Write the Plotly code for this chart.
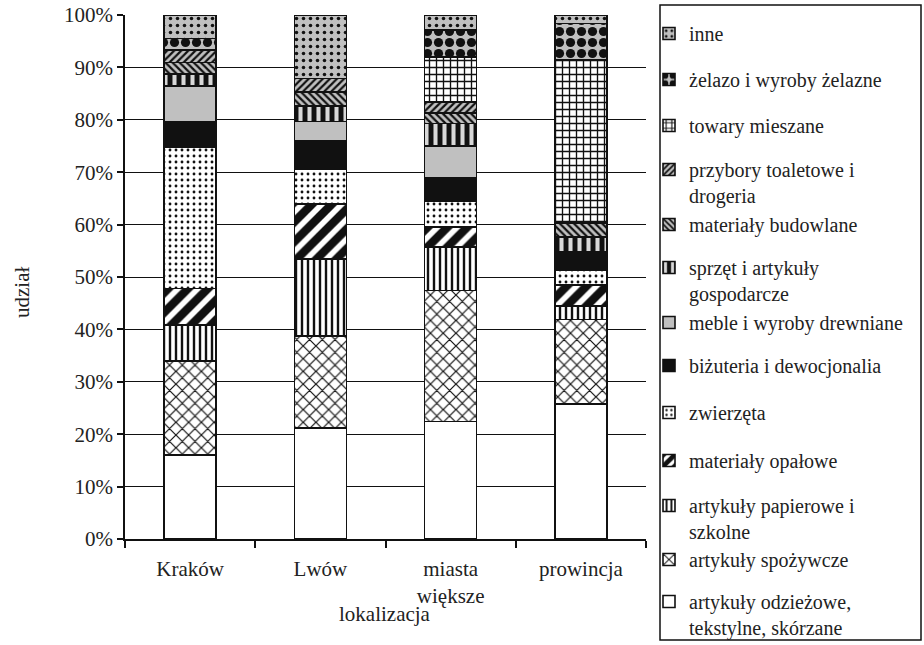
import plotly.graph_objects as go

# ---- data (percent shares) ----
categories = ["Kraków", "Lwów", "miasta<br>większe", "prowincja"]

odziezowe = [16.0, 21.2, 22.4, 25.8]
spozywcze = [18.0, 17.5, 25.0, 16.1]
papierowe = [6.8, 14.7, 8.3, 2.6]
opalowe = [7.0, 10.5, 3.8, 4.0]
zwierzeta = [27.0, 6.6, 5.0, 2.8]
bizuteria = [4.8, 5.5, 4.4, 3.5]
meble = [6.8, 3.7, 6.1, 0.0]
sprzet = [2.3, 2.9, 4.3, 2.8]
budowlane = [2.2, 2.7, 2.0, 2.7]
przybory = [2.4, 2.6, 2.1, 0.0]
towary = [0.0, 0.0, 8.6, 31.1]
zelazo = [2.2, 0.0, 5.1, 7.0]
inne = [4.5, 12.1, 2.9, 1.6]

series_names = [
    "artykuły odzieżowe,<br>tekstylne, skórzane",
    "artykuły spożywcze",
    "artykuły papierowe i<br>szkolne",
    "materiały opałowe",
    "zwierzęta",
    "biżuteria i dewocjonalia",
    "meble i wyroby drewniane",
    "sprzęt i artykuły<br>gospodarcze",
    "materiały budowlane",
    "przybory toaletowe i<br>drogeria",
    "towary mieszane",
    "żelazo i wyroby żelazne",
    "inne",
]
series_values = [odziezowe, spozywcze, papierowe, opalowe, zwierzeta, bizuteria,
                 meble, sprzet, budowlane, przybory, towary, zelazo, inne]

y_tick_values = [0, 10, 20, 30, 40, 50, 60, 70, 80, 90, 100]
y_tick_labels = ["0%", "10%", "20%", "30%", "40%", "50%", "60%", "70%", "80%", "90%", "100%"]

# ---- styles ----
GRAY = "#c0c0c0"
BLACK = "#111111"
WHITE = "#ffffff"
styles = [
    dict(color=WHITE, pattern=dict(shape="")),
    dict(color=WHITE, pattern=dict(shape="x", fgcolor=BLACK, size=9, solidity=0.25, fgopacity=1)),
    dict(color=WHITE, pattern=dict(shape="|", fgcolor=BLACK, size=6, solidity=0.4, fgopacity=1)),
    dict(color=WHITE, pattern=dict(shape="/", fgcolor=BLACK, size=14, solidity=0.6, fgopacity=1)),
    dict(color=WHITE, pattern=dict(shape=".", fgcolor=BLACK, size=6, solidity=0.18, fgopacity=1)),
    dict(color=BLACK, pattern=dict(shape="")),
    dict(color=GRAY, pattern=dict(shape="")),
    dict(color=BLACK, pattern=dict(shape="|", fgcolor="#d8d8d8", size=9, solidity=0.45, fgopacity=1)),
    dict(color=GRAY, pattern=dict(shape="\\", fgcolor=BLACK, size=5, solidity=0.45, fgopacity=1)),
    dict(color=GRAY, pattern=dict(shape="/", fgcolor=BLACK, size=5, solidity=0.45, fgopacity=1)),
    dict(color=WHITE, pattern=dict(shape="+", fgcolor=BLACK, size=7, solidity=0.35, fgopacity=1)),
    dict(color=GRAY, pattern=dict(shape=".", fgcolor=BLACK, size=11, solidity=0.55, fgopacity=1)),
    dict(color=GRAY, pattern=dict(shape=".", fgcolor=BLACK, size=7, solidity=0.2, fgopacity=1)),
]

FONT = "Liberation Serif, Times New Roman, serif"
FS = 21
LFS = 20
TXT = "#222"

# plot area in pixels
W, H = 924, 645
L, R = 125, 646
T, B = 15, 539
pw, ph = R - L, B - T

def px_x(x):
    return (x - L) / pw

def px_y(y):
    return (B - y) / ph

fig = go.Figure()
n = len(series_names)
for i, (name, vals, st) in enumerate(zip(series_names, series_values, styles)):
    legend_idx = n - i  # top legend = inne
    lkey = "legend" if legend_idx == 1 else f"legend{legend_idx}"
    fig.add_trace(go.Bar(
        x=categories, y=vals, name=name,
        marker=dict(color=st["color"], pattern=st["pattern"],
                    line=dict(color=BLACK, width=1.6)),
        legend=lkey,
    ))

# first-line centres of legend entries (pixels from top), top entry first
legend_line_centres = [33, 79, 125, 169, 224, 267, 322, 365, 412, 460, 505, 559, 601]
layout_legends = {}
for k in range(n):
    key = "legend" if k == 0 else f"legend{k+1}"
    top_px = legend_line_centres[k] - 19
    layout_legends[key] = dict(
        x=px_x(649), y=px_y(top_px), xanchor="left", yanchor="top",
        bgcolor="rgba(0,0,0,0)", borderwidth=0,
        font=dict(family=FONT, size=LFS, color=TXT),
        valign="top", tracegroupgap=0,
    )

fig.update_layout(
    barmode="stack",
    bargap=0.6,
    width=W, height=H,
    margin=dict(l=L, r=W - R, t=T, b=H - B, autoexpand=False),
    paper_bgcolor="white", plot_bgcolor="white",
    font=dict(family=FONT, size=FS, color=TXT),
    showlegend=True,
    **layout_legends,
)

fig.update_xaxes(
    showline=True, linecolor=BLACK, linewidth=1.5,
    ticks="outside", tickson="boundaries", ticklen=7, tickcolor=BLACK, tickwidth=1.5,
    showgrid=False, ticklabelstandoff=10,
    tickfont=dict(family=FONT, size=FS, color=TXT),
)
fig.update_yaxes(
    range=[0, 100], tickmode="array", tickvals=y_tick_values, ticktext=y_tick_labels,
    showline=True, linecolor=BLACK, linewidth=1.5,
    ticks="outside", ticklen=6, tickcolor=BLACK, tickwidth=1.5,
    showgrid=True, gridcolor=BLACK, gridwidth=1,
    zeroline=False,
    tickfont=dict(family=FONT, size=FS, color=TXT),
)

# axis titles
fig.add_annotation(
    text="udział", textangle=-90, xref="paper", yref="paper",
    x=px_x(22), y=px_y(293), xanchor="center", yanchor="middle", showarrow=False,
    font=dict(family=FONT, size=FS, color=TXT),
)
fig.add_annotation(
    text="lokalizacja", xref="paper", yref="paper",
    x=px_x(385), y=px_y(614), xanchor="center", yanchor="middle", showarrow=False,
    font=dict(family=FONT, size=FS, color=TXT),
)

# legend frame
fig.add_shape(
    type="rect", xref="paper", yref="paper",
    x0=px_x(660), x1=px_x(921), y0=px_y(640), y1=px_y(5),
    line=dict(color=BLACK, width=1.5), fillcolor="rgba(0,0,0,0)", layer="above",
)

fig.write_html("out.html", config={"displayModeBar": False},
               post_script="document.body.style.margin='0';")
